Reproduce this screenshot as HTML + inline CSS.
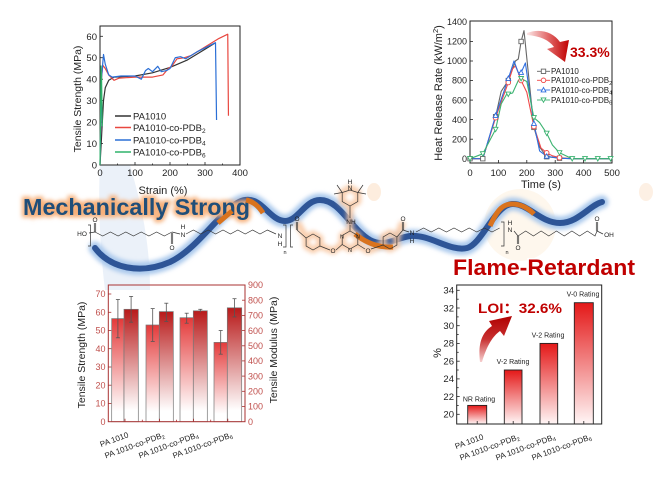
<!DOCTYPE html>
<html><head><meta charset="utf-8"><style>
html,body{margin:0;padding:0;background:#fff;}
svg{display:block;}
text{font-family:"Liberation Sans",Arial,sans-serif;}
</style></head><body>
<svg width="656" height="483" viewBox="0 0 656 483" xmlns="http://www.w3.org/2000/svg">
<defs>
<filter id="blur" x="-20%" y="-50%" width="140%" height="200%"><feGaussianBlur stdDeviation="2.2"/></filter>
<filter id="blur4" x="-30%" y="-30%" width="160%" height="160%"><feGaussianBlur stdDeviation="4"/></filter>
<linearGradient id="gS" x1="0" y1="0" x2="0" y2="1"><stop offset="0" stop-color="#e43a3a"/><stop offset="0.9" stop-color="#ffffff"/></linearGradient>
<linearGradient id="gM" x1="0" y1="0" x2="0" y2="1"><stop offset="0" stop-color="#b81a1a"/><stop offset="0.9" stop-color="#ffffff"/></linearGradient>
<linearGradient id="gL" x1="0" y1="0" x2="0" y2="1"><stop offset="0" stop-color="#e41818"/><stop offset="1" stop-color="#fff6f6"/></linearGradient>
<linearGradient id="gA1" x1="0" y1="0" x2="1" y2="0"><stop offset="0" stop-color="#fbe6e6"/><stop offset="0.5" stop-color="#e26a6a"/><stop offset="1" stop-color="#c00000"/></linearGradient>
<linearGradient id="gA2" x1="0" y1="1" x2="0" y2="0"><stop offset="0" stop-color="#f6d0d0"/><stop offset="0.5" stop-color="#c83030"/><stop offset="1" stop-color="#b00000"/></linearGradient>
</defs>
<rect width="656" height="483" fill="#fff"/>

<!-- faint background decorations -->
<path d="M100,165 L130,165 C140,200 150,240 150,290 L105,290 C100,250 98,200 100,165 Z" fill="#e6eef8" opacity="0.8"/>
<ellipse cx="520" cy="225" rx="36" ry="36" fill="#fdf3e6" opacity="0.7"/>
<ellipse cx="374" cy="192" rx="7" ry="9" fill="#fce8d6" opacity="0.8"/>
<ellipse cx="646" cy="192" rx="7" ry="9" fill="#fcecdd" opacity="0.8"/>

<!-- ============ TOP LEFT: Tensile curves ============ -->
<g font-size="9.5" fill="#222">
<rect x="100" y="26" width="140" height="139" fill="none" stroke="#222" stroke-width="1"/>
<g stroke="#222" stroke-width="0.8">
<line x1="100" y1="143.5" x2="103" y2="143.5"/><line x1="100" y1="122.1" x2="103" y2="122.1"/><line x1="100" y1="100.6" x2="103" y2="100.6"/><line x1="100" y1="79.2" x2="103" y2="79.2"/><line x1="100" y1="57.7" x2="103" y2="57.7"/><line x1="100" y1="36.3" x2="103" y2="36.3"/>
<line x1="135" y1="165" x2="135" y2="162"/><line x1="170" y1="165" x2="170" y2="162"/><line x1="205" y1="165" x2="205" y2="162"/>
<line x1="117.5" y1="165" x2="117.5" y2="163.5"/><line x1="152.5" y1="165" x2="152.5" y2="163.5"/><line x1="187.5" y1="165" x2="187.5" y2="163.5"/><line x1="222.5" y1="165" x2="222.5" y2="163.5"/>
</g>
<g text-anchor="end">
<text x="97" y="168.5">0</text><text x="97" y="147">10</text><text x="97" y="125.6">20</text><text x="97" y="104.1">30</text><text x="97" y="82.7">40</text><text x="97" y="61.2">50</text><text x="97" y="39.8">60</text>
</g>
<g text-anchor="middle">
<text x="100" y="176">0</text><text x="135" y="176">100</text><text x="170" y="176">200</text><text x="205" y="176">300</text><text x="240" y="176">400</text>
</g>
<text x="163" y="194" font-size="11" text-anchor="middle">Strain (%)</text>
<text transform="translate(81,99) rotate(-90)" font-size="10.5" text-anchor="middle">Tensile Strength (MPa)</text>
</g>
<g fill="none" stroke-width="1.2" stroke-linejoin="round">
<polyline stroke="#333" points="100,165 101.75,132.8 103.5,100.6 105.25,87.8 108.75,80.3 114,77.1 135,76 152.5,72.8 170,67.4 187.5,59.9 205,49.2 215.5,42.7"/>
<polyline stroke="#e8473f" points="100,165 101.4,79.2 102.8,65.3 105.25,68.5 108.75,74.9 114,80.3 119.25,78.1 135,77.1 152.5,77.1 163,74.9 168.25,68.5 171.75,66.3 177,58.8 184,57.8 191,55.6 205,47 219,38.4 227.75,34.2 228.45,115.7"/>
<polyline stroke="#2b6fd6" points="100,165 101.4,79.2 103.5,54.5 105.25,64.2 108.75,74.9 112.25,77.1 121,76 135,76 141.3,79.2 145.5,70.6 148.3,68.5 152.5,71.7 157.75,66.3 161.25,71.7 166.5,70.6 170,68.5 175.25,57.75 180.5,56.7 185.75,58.8 192.75,54.5 198,51.3 215.5,42.7 216.55,120"/>
<polyline stroke="#2fb36a" points="100,165 100.7,100.6 101.05,66 101.6,79.2 102.2,126.4"/>
</g>
<g font-size="9.5" fill="#222">
<line x1="115" y1="116" x2="131" y2="116" stroke="#333" stroke-width="1.5"/><text x="133" y="119.3">PA1010</text>
<line x1="115" y1="127.5" x2="131" y2="127.5" stroke="#e8473f" stroke-width="1.5"/><text x="133" y="130.8">PA1010-co-PDB<tspan font-size="6.5" dy="2">2</tspan></text>
<line x1="115" y1="140" x2="131" y2="140" stroke="#2b6fd6" stroke-width="1.5"/><text x="133" y="143.3">PA1010-co-PDB<tspan font-size="6.5" dy="2">4</tspan></text>
<line x1="115" y1="152" x2="131" y2="152" stroke="#2fb36a" stroke-width="1.5"/><text x="133" y="155.3">PA1010-co-PDB<tspan font-size="6.5" dy="2">6</tspan></text>
</g>

<!-- ============ TOP RIGHT: HRR ============ -->
<g font-size="9" fill="#222">
<rect x="470" y="21" width="142" height="142" fill="none" stroke="#222" stroke-width="1"/>
<g stroke="#222" stroke-width="0.8">
<line x1="470" y1="139.2" x2="473" y2="139.2"/><line x1="470" y1="119.6" x2="473" y2="119.6"/><line x1="470" y1="100.1" x2="473" y2="100.1"/><line x1="470" y1="80.5" x2="473" y2="80.5"/><line x1="470" y1="61" x2="473" y2="61"/><line x1="470" y1="41.5" x2="473" y2="41.5"/><line x1="470" y1="158.7" x2="473" y2="158.7"/>
<line x1="498.4" y1="163" x2="498.4" y2="160"/><line x1="526.8" y1="163" x2="526.8" y2="160"/><line x1="555.2" y1="163" x2="555.2" y2="160"/><line x1="583.6" y1="163" x2="583.6" y2="160"/>
</g>
<g text-anchor="end">
<text x="467" y="161.9">0</text><text x="467" y="142.4">200</text><text x="467" y="122.8">400</text><text x="467" y="103.3">600</text><text x="467" y="83.7">800</text><text x="467" y="64.2">1000</text><text x="467" y="44.7">1200</text><text x="467" y="25.2">1400</text>
</g>
<g text-anchor="middle" font-size="9.5">
<text x="470" y="176">0</text><text x="498.4" y="176">100</text><text x="526.8" y="176">200</text><text x="555.2" y="176">300</text><text x="583.6" y="176">400</text><text x="612" y="176">500</text>
</g>
<text x="541" y="188" font-size="11" text-anchor="middle">Time (s)</text>
<text transform="translate(442,93) rotate(-90)" font-size="11" text-anchor="middle">Heat Release Rate (kW/m<tspan font-size="7.5" dy="-4">2</tspan><tspan dy="4">)</tspan></text>
</g>
<g fill="none" stroke-width="1.1" stroke-linejoin="round">
<polyline stroke="#666" points="470,158.7 482.8,158.7 495.6,116.7 501.2,91.3 508.3,80.5 515.4,61 518.3,59 521.1,41.5 524,30.7 533.9,127.4 539.6,147 546.7,156.7 559.5,158.2 572.2,158.7 612,158.7"/>
<polyline stroke="#f04848" points="470,158.7 482.8,158.7 495.6,117.7 508.3,82.5 512.6,68.8 515.4,65.9 518.3,72.7 521.1,80.5 526.8,92.3 533.9,126.5 541,148 546.7,152.8 552.4,155.8 559.5,157.7 572.2,158.7 612,158.7"/>
<polyline stroke="#2f6fe0" points="470,158.7 482.8,158.7 495.6,115.7 508.3,78.6 514,61 518.3,72.7 521.1,72.7 525.4,63 533.9,123.5 539.6,150.9 546.7,156.3 559.5,158.2 572.2,158.7 612,158.7"/>
<polyline stroke="#3cb371" points="470,158.7 482.8,153.8 495.6,129.4 501.2,104 506.5,94.5 512.6,93 518.3,80.5 521.1,78.6 526.8,81.5 533.9,117.7 539.6,122.6 546.7,133.3 552.4,145 559.5,152.8 572.2,158.7 612,158.7"/>
</g>
<g fill="#fff" stroke-width="0.9">
<g stroke="#666">
<rect x="467.8" y="156.5" width="4.4" height="4.4"/><rect x="480.6" y="156.5" width="4.4" height="4.4"/><rect x="493.4" y="114.5" width="4.4" height="4.4"/><rect x="506.1" y="78.3" width="4.4" height="4.4"/><rect x="518.9" y="39.3" width="4.4" height="4.4"/><rect x="531.7" y="125.2" width="4.4" height="4.4"/><rect x="544.5" y="154.5" width="4.4" height="4.4"/><rect x="557.3" y="156" width="4.4" height="4.4"/>
</g>
<g stroke="#f04848">
<circle cx="495.6" cy="117.7" r="2.3"/><circle cx="508.3" cy="82.5" r="2.3"/><circle cx="521.1" cy="80.5" r="2.3"/><circle cx="533.9" cy="126.5" r="2.3"/><circle cx="546.7" cy="152.8" r="2.3"/><circle cx="559.5" cy="157.7" r="2.3"/>
</g>
<g stroke="#2f6fe0">
<polygon points="495.6,113 498,117.4 493.2,117.4"/><polygon points="508.3,76 510.7,80.4 505.9,80.4"/><polygon points="521.1,70 523.5,74.4 518.7,74.4"/><polygon points="533.9,121 536.3,125.4 531.5,125.4"/><polygon points="546.7,153.8 549.1,158.2 544.3,158.2"/>
</g>
<g stroke="#3cb371">
<polygon points="470,161 472.4,156.6 467.6,156.6"/><polygon points="482.8,156.1 485.2,151.7 480.4,151.7"/><polygon points="495.6,131.7 498,127.3 493.2,127.3"/><polygon points="508.3,96.5 510.7,92.1 505.9,92.1"/><polygon points="521.1,80.9 523.5,76.5 518.7,76.5"/><polygon points="533.9,120 536.3,115.6 531.5,115.6"/><polygon points="546.7,135.6 549.1,131.2 544.3,131.2"/><polygon points="559.5,155.1 561.9,150.7 557.1,150.7"/><polygon points="572.2,161 574.6,156.6 569.8,156.6"/><polygon points="585,161 587.4,156.6 582.6,156.6"/><polygon points="597.8,161 600.2,156.6 595.4,156.6"/><polygon points="610.6,161 613,156.6 608.2,156.6"/>
</g>
</g>
<g font-size="8" fill="#222" stroke-width="0.9">
<line x1="537" y1="71.3" x2="550" y2="71.3" stroke="#666"/><rect x="541.3" y="69.1" width="4.4" height="4.4" fill="#fff" stroke="#666"/><text x="551" y="74.2" stroke="none">PA1010</text>
<line x1="537" y1="80.3" x2="550" y2="80.3" stroke="#f04848"/><circle cx="543.5" cy="80.3" r="2.3" fill="#fff" stroke="#f04848"/><text x="551" y="83.2" stroke="none">PA1010-co-PDB<tspan font-size="5.5" dy="1.8">2</tspan></text>
<line x1="537" y1="90" x2="550" y2="90" stroke="#2f6fe0"/><polygon points="543.5,87.5 545.9,91.9 541.1,91.9" fill="#fff" stroke="#2f6fe0"/><text x="551" y="92.9" stroke="none">PA1010-co-PDB<tspan font-size="5.5" dy="1.8">4</tspan></text>
<line x1="537" y1="100" x2="550" y2="100" stroke="#3cb371"/><polygon points="543.5,102.3 545.9,97.9 541.1,97.9" fill="#fff" stroke="#3cb371"/><text x="551" y="102.9" stroke="none">PA1010-co-PDB<tspan font-size="5.5" dy="1.8">6</tspan></text>
</g>
<path d="M527,33 C540,28 553,32 560,42 L569,40 L565,62 L547,49 L554,47 C549,40 540,36 527,35 Z" fill="url(#gA1)"/>
<text x="570" y="57" font-size="14" font-weight="bold" fill="#c00000">33.3%</text>

<!-- ============ CENTER: wave & structure ============ -->
<path d="M95,248 C110,268 140,275 170,262 C200,248 225,203 245,200 C262,197 270,221 285,221 C298,221 305,200 320,200 C340,200 350,228 370,240 C385,248 395,238 410,236 C430,234 450,252 467,248 C482,244 495,205 512,204 C528,203 540,223 560,223 C578,223 590,205 602,202" fill="none" stroke="#a9c8ec" stroke-width="13" stroke-linecap="round" filter="url(#blur)"/>
<path d="M95,248 C110,268 140,275 170,262 C200,248 225,203 245,200 C262,197 270,221 285,221 C298,221 305,200 320,200 C340,200 350,228 370,240 C385,248 395,238 410,236 C430,234 450,252 467,248 C482,244 495,205 512,204 C528,203 540,223 560,223 C578,223 590,205 602,202" fill="none" stroke="#2e5597" stroke-width="6" stroke-linecap="round"/>

<text x="23" y="215" font-size="23" font-weight="bold" textLength="227" lengthAdjust="spacingAndGlyphs" fill="none" stroke="#f6b07a" stroke-width="5" filter="url(#blur)">Mechanically Strong</text>
<text x="23" y="215" font-size="23" font-weight="bold" textLength="227" lengthAdjust="spacingAndGlyphs" fill="#1f4e79">Mechanically Strong</text>

<g fill="none" stroke="#d9731e" stroke-width="5" stroke-linecap="butt">
<path d="M218,223 L232,211"/>
<path d="M246,200 Q256,202 263,213"/>
<path d="M490,226 C498,208 504,204 512,204 C520,204 527,207 534,214"/>
</g>

<g fill="none" stroke="#f8c6a0" stroke-width="7" stroke-linejoin="round" filter="url(#blur)" opacity="0.85">
<polygon points="350,188 357.8,192.5 357.8,201.5 350,206 342.2,201.5 342.2,192.5"/>
<line x1="350" y1="206" x2="350" y2="231"/>
<polygon points="350,231 357.8,235.5 357.8,244.5 350,249 342.2,244.5 342.2,235.5"/>
<polygon points="313,234 319.9,238 319.9,246 313,250 306.1,246 306.1,238"/>
<polygon points="390,233 396.9,237 396.9,245 390,249 383.1,245 383.1,237"/>
<polyline points="319.9,246 333,251 342.2,244.5"/><polyline points="357.8,244.5 368,251 383.1,245"/>
<polyline points="297,222 306.1,238"/><polyline points="396.9,237 403,222"/>
</g>
<path d="M355,234 C365,242 378,248 393,247" fill="none" stroke="#d9731e" stroke-width="5"/>

<g fill="none" stroke="#333" stroke-width="0.7">
<path d="M88,225 H90.5 V246 H88"/>
<line x1="89" y1="233" x2="95" y2="232"/>
<line x1="94.3" y1="232" x2="94.3" y2="223"/><line x1="95.7" y1="232" x2="95.7" y2="223"/>
<polyline points="95,232 102.7,236 110.4,232 118.1,236 125.8,232 133.5,236 141.2,232 148.9,236 156.6,232 164.3,236 172,232"/>
<line x1="171.3" y1="233" x2="171.3" y2="244"/><line x1="172.7" y1="233" x2="172.7" y2="244"/>
<line x1="172" y1="232" x2="180" y2="234"/>
<polyline points="186,234 193.4,230 200.8,234 208.2,230 215.6,234 223,230 230.4,234 237.8,230 245.2,234 252.6,230 260,234 267.4,230 276,234"/>
<path d="M283,225 H286 V247 H283"/>
<path d="M293,225 H290.5 V247 H293"/>
<line x1="296.3" y1="230" x2="296.3" y2="222"/><line x1="297.7" y1="230" x2="297.7" y2="222"/>
<line x1="297" y1="230" x2="306.1" y2="238"/>
<polygon points="313,234 319.9,238 319.9,246 313,250 306.1,246 306.1,238"/>
<line x1="319.9" y1="246" x2="330" y2="250"/>
<line x1="336" y1="250" x2="342.2" y2="244.5"/>
<polygon points="350,231 357.8,235.5 357.8,244.5 350,249 342.2,244.5 342.2,235.5"/>
<line x1="350" y1="231" x2="350" y2="225"/>
<line x1="350" y1="218" x2="350" y2="206"/>
<polygon points="350,190 357.8,192.5 357.8,201.5 350,206 342.2,201.5 342.2,192.5"/>
<line x1="342.2" y1="192.5" x2="334" y2="194"/><line x1="342.2" y1="192.5" x2="337" y2="185"/>
<line x1="357.8" y1="192.5" x2="366" y2="194"/><line x1="357.8" y1="192.5" x2="363" y2="185"/>
<line x1="357.8" y1="244.5" x2="365" y2="249"/>
<line x1="371" y1="249" x2="383.1" y2="245"/>
<polygon points="390,233 396.9,237 396.9,245 390,249 383.1,245 383.1,237"/>
<line x1="396.9" y1="237" x2="403" y2="230"/>
<line x1="402.3" y1="230" x2="402.3" y2="222"/><line x1="403.7" y1="230" x2="403.7" y2="222"/>
<line x1="403" y1="230" x2="409" y2="232"/>
<polyline points="416,232 423.6,228 431.2,232 438.8,228 446.4,232 454,228 461.6,232 469.2,228 476.8,232 484.4,228 492,232 499.6,228"/>
<path d="M501,222 H504 V246 H501"/>
<line x1="514" y1="231" x2="518" y2="236"/>
<line x1="517.3" y1="236" x2="517.3" y2="244"/><line x1="518.7" y1="236" x2="518.7" y2="244"/>
<polyline points="518,236 525.7,231 533.4,236 541.1,231 548.8,236 556.5,231 564.2,236 571.9,231 579.6,236 587.3,231 595,236 597,231"/>
<line x1="596.3" y1="231" x2="596.3" y2="222"/><line x1="597.7" y1="231" x2="597.7" y2="222"/>
<line x1="597" y1="231" x2="603" y2="234"/>
</g>
<g font-size="6.5" fill="#222" text-anchor="middle">
<text x="82" y="236">HO</text>
<text x="95" y="222">O</text>
<text x="172" y="250">O</text>
<text x="183" y="237">N</text><text x="183" y="229">H</text>
<text x="280" y="238">N</text><text x="280" y="246">H</text>
<text x="285" y="254" font-size="5.5">n</text>
<text x="297" y="221">O</text>
<text x="333" y="253">O</text>
<text x="342" y="238.5" font-size="5.5">N</text><text x="358" y="238.5" font-size="5.5">N</text><text x="350" y="252" font-size="5.5">N</text>
<text x="351" y="224">NH</text>
<text x="350" y="190">N</text><text x="350" y="184">H</text>
<text x="368" y="253">O</text>
<text x="403" y="221">O</text>
<text x="412" y="235">N</text><text x="412" y="243">H</text>
<text x="507" y="254" font-size="5.5">n</text>
<text x="510" y="232">N</text><text x="510" y="225">H</text>
<text x="518" y="250">O</text>
<text x="597" y="221">O</text>
<text x="609" y="237">OH</text>
</g>

<text x="453" y="275" font-size="22" font-weight="bold" textLength="182" lengthAdjust="spacingAndGlyphs" fill="none" stroke="#fff" stroke-width="3">Flame-Retardant</text>
<text x="453" y="275" font-size="22" font-weight="bold" textLength="182" lengthAdjust="spacingAndGlyphs" fill="#c00000">Flame-Retardant</text>

<!-- ============ BOTTOM LEFT: bars ============ -->
<g stroke="#777" stroke-width="0.7">
<rect x="111.7" y="318.6" width="12.3" height="103.1" fill="url(#gS)"/>
<rect x="124" y="309.3" width="14.3" height="112.4" fill="url(#gM)"/>
<rect x="146" y="325" width="13.3" height="96.7" fill="url(#gS)"/>
<rect x="159.3" y="311.6" width="14" height="110.1" fill="url(#gM)"/>
<rect x="180" y="317.7" width="13.3" height="104" fill="url(#gS)"/>
<rect x="193.3" y="310.8" width="14" height="110.9" fill="url(#gM)"/>
<rect x="214" y="342.4" width="13.3" height="79.3" fill="url(#gS)"/>
<rect x="227.3" y="307.8" width="14.4" height="113.9" fill="url(#gM)"/>
</g>
<g stroke="#555" stroke-width="0.8">
<line x1="117.9" y1="299.5" x2="117.9" y2="337.8"/><line x1="115.9" y1="299.5" x2="119.9" y2="299.5"/><line x1="115.9" y1="337.8" x2="119.9" y2="337.8"/>
<line x1="131.1" y1="296.4" x2="131.1" y2="322.2"/><line x1="129.1" y1="296.4" x2="133.1" y2="296.4"/><line x1="129.1" y1="322.2" x2="133.1" y2="322.2"/>
<line x1="152.7" y1="308.6" x2="152.7" y2="341.4"/><line x1="150.7" y1="308.6" x2="154.7" y2="308.6"/><line x1="150.7" y1="341.4" x2="154.7" y2="341.4"/>
<line x1="166.3" y1="303.2" x2="166.3" y2="321.4"/><line x1="164.3" y1="303.2" x2="168.3" y2="303.2"/><line x1="164.3" y1="321.4" x2="168.3" y2="321.4"/>
<line x1="186.7" y1="313.2" x2="186.7" y2="323.2"/><line x1="184.7" y1="313.2" x2="188.7" y2="313.2"/><line x1="184.7" y1="323.2" x2="188.7" y2="323.2"/>
<line x1="200.3" y1="309.3" x2="200.3" y2="312.3"/><line x1="198.3" y1="309.3" x2="202.3" y2="309.3"/>
<line x1="220.7" y1="330.5" x2="220.7" y2="354.2"/><line x1="218.7" y1="330.5" x2="222.7" y2="330.5"/><line x1="218.7" y1="354.2" x2="222.7" y2="354.2"/>
<line x1="234.5" y1="298.7" x2="234.5" y2="316.9"/><line x1="232.5" y1="298.7" x2="236.5" y2="298.7"/><line x1="232.5" y1="316.9" x2="236.5" y2="316.9"/>
</g>
<rect x="108.3" y="285" width="136.7" height="136.7" fill="none" stroke="#a83232" stroke-width="1"/>
<g stroke="#a83232" stroke-width="0.8">
<line x1="108.3" y1="403.5" x2="111.3" y2="403.5"/><line x1="108.3" y1="385.2" x2="111.3" y2="385.2"/><line x1="108.3" y1="367" x2="111.3" y2="367"/><line x1="108.3" y1="348.7" x2="111.3" y2="348.7"/><line x1="108.3" y1="330.5" x2="111.3" y2="330.5"/><line x1="108.3" y1="312.3" x2="111.3" y2="312.3"/><line x1="108.3" y1="294" x2="111.3" y2="294"/>
<line x1="245" y1="406.5" x2="242" y2="406.5"/><line x1="245" y1="391.3" x2="242" y2="391.3"/><line x1="245" y1="376.1" x2="242" y2="376.1"/><line x1="245" y1="360.9" x2="242" y2="360.9"/><line x1="245" y1="345.8" x2="242" y2="345.8"/><line x1="245" y1="330.6" x2="242" y2="330.6"/><line x1="245" y1="315.4" x2="242" y2="315.4"/><line x1="245" y1="300.2" x2="242" y2="300.2"/>
<line x1="125" y1="421.7" x2="125" y2="418.7"/><line x1="159.6" y1="421.7" x2="159.6" y2="418.7"/><line x1="193.6" y1="421.7" x2="193.6" y2="418.7"/><line x1="227.8" y1="421.7" x2="227.8" y2="418.7"/>
<line x1="142.3" y1="421.7" x2="142.3" y2="419.7"/><line x1="176.6" y1="421.7" x2="176.6" y2="419.7"/><line x1="210.7" y1="421.7" x2="210.7" y2="419.7"/>
</g>
<g font-size="9" fill="#c0504d" text-anchor="end">
<text x="105.5" y="424.9">0</text><text x="105.5" y="406.7">10</text><text x="105.5" y="388.4">20</text><text x="105.5" y="370.2">30</text><text x="105.5" y="351.9">40</text><text x="105.5" y="333.7">50</text><text x="105.5" y="315.5">60</text><text x="105.5" y="297.2">70</text>
</g>
<g font-size="9" fill="#c0504d">
<text x="248" y="424.9">0</text><text x="248" y="409.7">100</text><text x="248" y="394.5">200</text><text x="248" y="379.3">300</text><text x="248" y="364.1">400</text><text x="248" y="349">500</text><text x="248" y="333.8">600</text><text x="248" y="318.6">700</text><text x="248" y="303.4">800</text><text x="248" y="288.2">900</text>
</g>
<text transform="translate(85,355) rotate(-90)" font-size="10.5" fill="#222" text-anchor="middle">Tensile Strength (MPa)</text>
<text transform="translate(277,350) rotate(-90)" font-size="10.5" fill="#222" text-anchor="middle">Tensile Modulus (MPa)</text>
<g font-size="8" fill="#222" text-anchor="end">
<text transform="translate(129,437) rotate(-20)">PA 1010</text>
<text transform="translate(165,437) rotate(-20)">PA 1010-co-PDB<tspan font-size="5.5" dy="1.5">2</tspan></text>
<text transform="translate(199,437) rotate(-20)">PA 1010-co-PDB<tspan font-size="5.5" dy="1.5">4</tspan></text>
<text transform="translate(233,437) rotate(-20)">PA 1010-co-PDB<tspan font-size="5.5" dy="1.5">6</tspan></text>
</g>

<!-- ============ BOTTOM RIGHT: LOI ============ -->
<g stroke="#222" stroke-width="0.9">
<rect x="467.7" y="405.4" width="19" height="18.6" fill="url(#gL)"/>
<rect x="504.3" y="370" width="17.7" height="54" fill="url(#gL)"/>
<rect x="540" y="343.4" width="17.7" height="80.6" fill="url(#gL)"/>
<rect x="574.3" y="302.7" width="19" height="121.3" fill="url(#gL)"/>
</g>
<rect x="456.7" y="285" width="145" height="139" fill="none" stroke="#222" stroke-width="1"/>
<g stroke="#222" stroke-width="0.8">
<line x1="456.7" y1="414.3" x2="459.7" y2="414.3"/><line x1="456.7" y1="396.6" x2="459.7" y2="396.6"/><line x1="456.7" y1="378.9" x2="459.7" y2="378.9"/><line x1="456.7" y1="361.2" x2="459.7" y2="361.2"/><line x1="456.7" y1="343.4" x2="459.7" y2="343.4"/><line x1="456.7" y1="325.7" x2="459.7" y2="325.7"/><line x1="456.7" y1="308" x2="459.7" y2="308"/><line x1="456.7" y1="290.3" x2="459.7" y2="290.3"/>
<line x1="456.7" y1="405.4" x2="458.7" y2="405.4"/><line x1="456.7" y1="387.7" x2="458.7" y2="387.7"/><line x1="456.7" y1="370" x2="458.7" y2="370"/><line x1="456.7" y1="352.3" x2="458.7" y2="352.3"/><line x1="456.7" y1="334.6" x2="458.7" y2="334.6"/><line x1="456.7" y1="316.9" x2="458.7" y2="316.9"/><line x1="456.7" y1="299.2" x2="458.7" y2="299.2"/>
<line x1="477.2" y1="424" x2="477.2" y2="421"/><line x1="513.2" y1="424" x2="513.2" y2="421"/><line x1="548.9" y1="424" x2="548.9" y2="421"/><line x1="583.8" y1="424" x2="583.8" y2="421"/>
</g>
<g font-size="9.5" fill="#222" text-anchor="end">
<text x="454" y="417.6">20</text><text x="454" y="399.9">22</text><text x="454" y="382.2">24</text><text x="454" y="364.5">26</text><text x="454" y="346.7">28</text><text x="454" y="329">30</text><text x="454" y="311.3">32</text><text x="454" y="293.6">34</text>
</g>
<text transform="translate(441,353) rotate(-90)" font-size="11" fill="#222" text-anchor="middle">%</text>
<g font-size="7" fill="#222" text-anchor="middle">
<text x="479" y="401.5">NR Rating</text>
<text x="513" y="364">V-2 Rating</text>
<text x="548" y="337.5">V-2 Rating</text>
<text x="583" y="296.5">V-0 Rating</text>
</g>
<path d="M480,362 C478,345 481,333 492,326 L489,321 L512,316 L504,336 L500,331 C493,336 487,345 482,362 Z" fill="url(#gA2)"/>
<text x="478" y="313" font-size="14" font-weight="bold" fill="#c00000" textLength="84" lengthAdjust="spacingAndGlyphs">LOI：32.6%</text>
<g font-size="8" fill="#222" text-anchor="end">
<text transform="translate(484,439) rotate(-20)">PA 1010</text>
<text transform="translate(520,439) rotate(-20)">PA 1010-co-PDB<tspan font-size="5.5" dy="1.5">2</tspan></text>
<text transform="translate(556,439) rotate(-20)">PA 1010-co-PDB<tspan font-size="5.5" dy="1.5">4</tspan></text>
<text transform="translate(592,439) rotate(-20)">PA 1010-co-PDB<tspan font-size="5.5" dy="1.5">6</tspan></text>
</g>
</svg>
</body></html>
